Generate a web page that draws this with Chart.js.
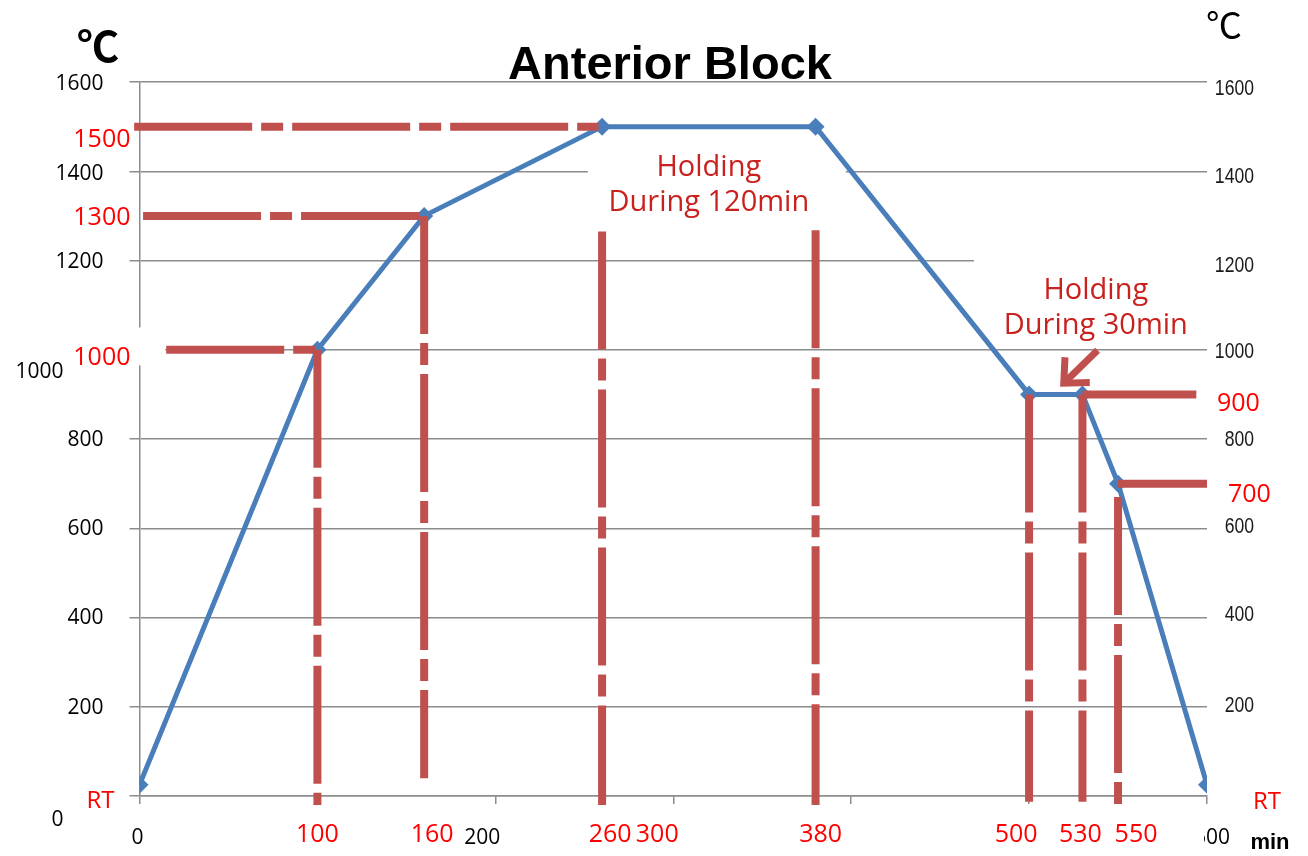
<!DOCTYPE html>
<html>
<head>
<meta charset="utf-8">
<script src="https://cdn.jsdelivr.net/npm/chart.js@4.4.0/dist/chart.umd.min.js"></script>
<style>
  body { margin: 0; background: #fff; }
  canvas { display: block; }
</style>
</head>
<body>
<canvas id="myChart" width="1308" height="856"></canvas>
<script>
/* data */
const RT = 25;
const minutes = [0, 100, 160, 260, 380, 500, 530, 550, 600];
const temps = [RT, 1000, 1300, 1500, 1500, 900, 900, 700, RT];

/* red guide lines (in chart units) */
const hGuideTemp = [1500, 1300, 1000, 900, 700];
const hGuideFrom = [-3, 2, 15, 530, 550];
const hGuideTo = [258, 160, 100, 594, 600];
const vGuideMin = [100, 160, 260, 380, 500, 530, 550];
const vGuideTop = [1000, 1300, 1265, 1268, 900, 900, 670];
const vGuideBottom = [-20, 40, -20, -20, -13, -13, -20];

/* tick labels */
const leftTicks = [1600, 1400, 1200, 1000, 800, 600, 400, 200, 0];
const rightTicks = [1600, 1400, 1200, 1000, 800, 600, 400, 200];
const bottomTicks = [0, 200, 600];
const redTempLeft = [1500, 1300, 1000];
const redTempRight = [900, 700];
const redMinutes = [100, 160, 260, 300, 380, 500, 530, 550];

const BLUE = '#4A7EBB';
const RED = '#C0504D';
const GRID = '#8C8C8C';
const TEXT_RED = '#FF0000';
const NOTE_RED = '#C9211E';

const guides = [];
hGuideTemp.forEach((t, i) => {
  guides.push([{ x: hGuideFrom[i], y: t }, { x: hGuideTo[i], y: t }]);
});
vGuideMin.forEach((m, i) => {
  guides.push([{ x: m, y: vGuideTop[i] }, { x: m, y: vGuideBottom[i] }]);
});

const txt = (ctx, s, x, y, font, color, align, base) => {
  ctx.font = font;
  ctx.fillStyle = color;
  ctx.textAlign = align || 'center';
  ctx.textBaseline = base || 'middle';
  ctx.fillText(s, x, y);
};

const decor = {
  id: 'decor',
  beforeDatasetsDraw(chart) {
    const { ctx, scales: { x, y } } = chart;
    const boxes = [
      [252, 397, 1455, 1272],
      [469, 606, 1223, 1025],
      [-8, 14.5, 1050, 965],
    ];
    ctx.save();
    ctx.fillStyle = '#fff';
    boxes.forEach((b) => {
      const x0 = x.getPixelForValue(b[0]);
      const x1 = x.getPixelForValue(b[1]);
      const y0 = y.getPixelForValue(b[2]);
      const y1 = y.getPixelForValue(b[3]);
      ctx.fillRect(x0, y0, x1 - x0, y1 - y0);
    });
    ctx.restore();
  },
  afterDatasetsDraw(chart) {
    const { ctx, scales: { x, y } } = chart;
    const left = x.getPixelForValue(0);
    const right = x.getPixelForValue(600);
    const bottom = y.getPixelForValue(0);
    ctx.save();

    /* title + units */
    txt(ctx, 'Anterior Block', 670, 79, 'bold 47px "Liberation Sans", Arial', '#000', 'center', 'alphabetic');
    txt(ctx, '℃', 98, 46, 'bold 42px "Noto Sans CJK SC"', '#000');
    txt(ctx, '℃', 1224, 25, '36px "Noto Sans CJK SC"', '#000');
    txt(ctx, 'min', 1270, 843, 'bold 22px "Liberation Sans", Arial', '#000');

    /* black left ticks */
    const leftNudge = { 1000: [-40, 22], 0: [-40, 24], 1600: [0, 2], 1400: [0, 3], 1200: [0, 2] };
    leftTicks.forEach((v) => {
      const n = leftNudge[v] || [0, 1];
      txt(ctx, String(v), left - 36 + n[0], y.getPixelForValue(v) + n[1], '21px "Open Sans"', '#000', 'right');
    });

    /* right ticks, narrow face */
    const rightNudge = { 1600: 7, 1400: 6, 1200: 5, 1000: 2, 800: 1, 600: -1, 400: -3, 200: -1 };
    rightTicks.forEach((v) => {
      ctx.save();
      ctx.translate(right + 47, y.getPixelForValue(v) + rightNudge[v]);
      ctx.scale(0.8, 1);
      txt(ctx, String(v), 0, 0, '22px "Liberation Sans", Arial', '#1a1a1a', 'right');
      ctx.restore();
    });

    /* bottom black ticks */
    const bottomNudge = { 0: -2, 200: -13, 600: 5 };
    bottomTicks.forEach((v) => {
      const px = x.getPixelForValue(v) + bottomNudge[v];
      ctx.save();
      if (v === 600) {
        ctx.beginPath();
        ctx.rect(right - 3, bottom, 60, 60);
        ctx.clip();
      }
      txt(ctx, String(v), px, 838, '21px "Open Sans"', '#000');
      ctx.restore();
    });

    /* red labels */
    const redLeftNudge = { 1500: 13, 1300: 2, 1000: 8 };
    redTempLeft.forEach((v) => {
      txt(ctx, String(v), left - 9, y.getPixelForValue(v) + redLeftNudge[v], '25px "Open Sans"', TEXT_RED, 'right');
    });
    const redRightNudge = { 900: [10, 9], 700: [21, 11] };
    redTempRight.forEach((v) => {
      const n = redRightNudge[v];
      txt(ctx, String(v), right + n[0], y.getPixelForValue(v) + n[1], '25px "Open Sans"', TEXT_RED, 'left');
    });
    const redMinNudge = { 100: 0, 160: 8, 260: 8, 300: -16, 380: 5, 500: -13, 530: -2, 550: 18 };
    redMinutes.forEach((v) => {
      txt(ctx, String(v), x.getPixelForValue(v) + redMinNudge[v], 835, '25px "Open Sans"', TEXT_RED);
    });
    txt(ctx, 'RT', left - 39, bottom + 5, '24px "Open Sans"', TEXT_RED);
    txt(ctx, 'RT', right + 60, bottom + 6, '24px "Open Sans"', TEXT_RED);

    /* holding notes */
    const n1x = x.getPixelForValue(320);
    const n1y = y.getPixelForValue(1400);
    txt(ctx, 'Holding', n1x, n1y + 5, '29px "Open Sans"', NOTE_RED, 'center', 'alphabetic');
    txt(ctx, 'During 120min', n1x, n1y + 40, '29px "Open Sans"', NOTE_RED, 'center', 'alphabetic');
    const n2x = x.getPixelForValue(537.5);
    const n2y = y.getPixelForValue(1100);
    txt(ctx, 'Holding', n2x, n2y - 6, '29px "Open Sans"', NOTE_RED, 'center', 'alphabetic');
    txt(ctx, 'During 30min', n2x, n2y + 29, '29px "Open Sans"', NOTE_RED, 'center', 'alphabetic');

    /* arrow */
    const tx = x.getPixelForValue(538.5), ty = y.getPixelForValue(999);
    const hx = x.getPixelForValue(519.5), hy = y.getPixelForValue(925);
    const ang = Math.atan2(hy - ty, hx - tx);
    ctx.strokeStyle = RED;
    ctx.lineWidth = 7;
    ctx.lineCap = 'butt';
    ctx.beginPath();
    ctx.moveTo(tx, ty);
    ctx.lineTo(hx - 4 * Math.cos(ang), hy - 4 * Math.sin(ang));
    ctx.stroke();
    ctx.beginPath();
    ctx.moveTo(hx - 26 * Math.cos(ang - 0.75), hy - 26 * Math.sin(ang - 0.75));
    ctx.lineTo(hx, hy);
    ctx.lineTo(hx - 26 * Math.cos(ang + 0.75), hy - 26 * Math.sin(ang + 0.75));
    ctx.stroke();

    ctx.restore();
  },
};

const datasets = guides.map((g) => ({
  data: g,
  showLine: true,
  borderColor: RED,
  borderWidth: 8,
  borderDash: [118, 9, 22, 9],
  pointRadius: 0,
  clip: false,
}));
datasets.push({
  label: 'Anterior Block',
  data: minutes.map((m, i) => ({ x: m, y: temps[i] })),
  showLine: true,
  borderColor: BLUE,
  borderWidth: 5,
  pointStyle: 'rectRot',
  pointRadius: 9,
  pointBackgroundColor: BLUE,
  pointBorderWidth: 0,
});

const chart = new Chart(document.getElementById('myChart'), {
  type: 'scatter',
  data: { datasets },
  options: {
    responsive: false,
    animation: false,
    layout: { padding: { left: 129.5, right: 101, top: 82, bottom: 52 } },
    plugins: { legend: { display: false }, tooltip: { enabled: false } },
    scales: {
      x: {
        type: 'linear',
        min: 0,
        max: 600,
        ticks: { stepSize: 100, display: false },
        grid: { drawOnChartArea: false, drawTicks: true, tickLength: 8, color: GRID, lineWidth: 1.5 },
        border: { color: GRID, width: 1.5 },
      },
      y: {
        min: 0,
        max: 1600,
        ticks: { stepSize: 200, display: false },
        grid: { color: GRID, lineWidth: 1.5, tickLength: 10 },
        border: { color: GRID, width: 1.5 },
      },
    },
  },
  plugins: [decor],
});
</script>
</body>
</html>
